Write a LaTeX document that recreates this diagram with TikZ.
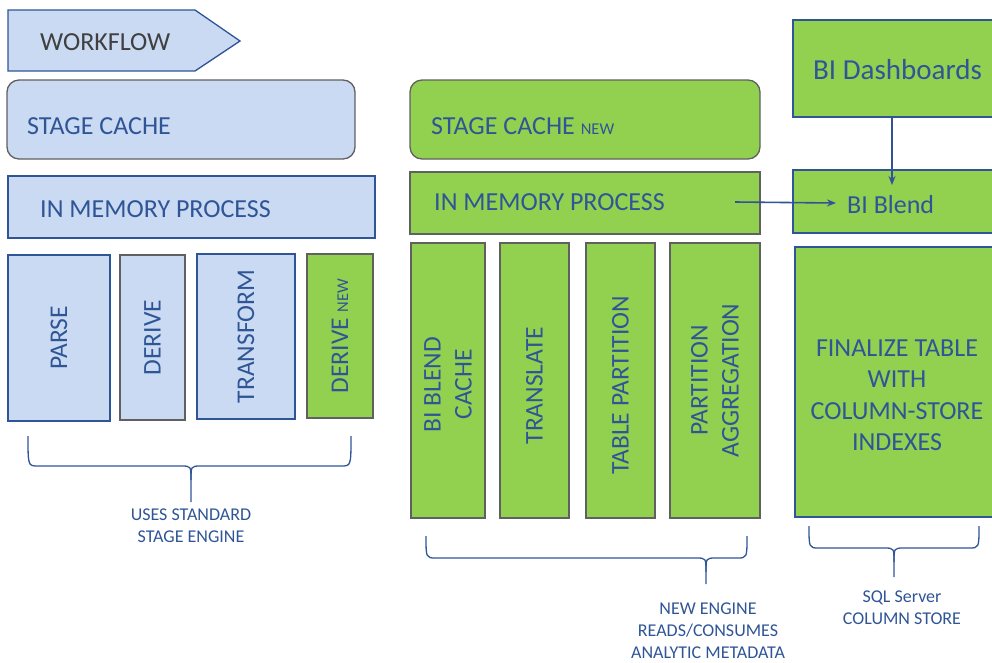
\documentclass[tikz,border=0pt]{standalone}
\usepackage{fontspec}
\setmainfont{Carlito}
\usetikzlibrary{arrows.meta}
\definecolor{lblue}{HTML}{C9DAF2}
\definecolor{dblue}{HTML}{2F5597}
\definecolor{lgreen}{HTML}{92D050}
\definecolor{gborder}{HTML}{606060}
\definecolor{wfgray}{HTML}{404040}
\newcommand\mkbox[6]{\node[#1, minimum width={#4-#2}, minimum height={#5-#3}, anchor=north west] (#6) at (#2,#3) {};}
\newcommand\mkbrace[6]{%
  \draw[brc] (#1,#4) .. controls (#1,#5) .. (#1+10,#5) -- (#3-10,#5) .. controls (#3,#5) .. (#3,#5+14) -- (#3,#6);
  \draw[brc] (#2,#4) .. controls (#2,#5) .. (#2-10,#5) -- (#3+10,#5) .. controls (#3,#5) .. (#3,#5+14);}
\begin{document}
\begin{tikzpicture}[x=1pt,y=-1pt,
  bx/.style={draw, line width=1.3pt, inner sep=0pt, outer sep=0pt},
  bluebox/.style={bx, fill=lblue, draw=dblue},
  bluegray/.style={bx, fill=lblue, draw=gborder},
  greenbox/.style={bx, fill=lgreen, draw=gborder},
  greenblue/.style={bx, fill=lgreen, draw=dblue},
  rnd/.style={rounded corners=12pt},
  lbl/.style={text=dblue, font=\fontsize{26}{30}\selectfont, inner sep=0pt},
  vlbl/.style={lbl, rotate=90, align=center, font=\fontsize{25.5}{31}\selectfont},
  small/.style={text=dblue, font=\fontsize{18}{22}\selectfont, align=center, inner sep=0pt},
  brc/.style={draw=dblue, line width=1.3pt},
  arr/.style={draw=dblue, line width=1.6pt, -{Stealth[length=9pt,width=7pt]}}
]
\useasboundingbox (0,0) rectangle (992,662);
\newcommand\nw[1]{{\fontsize{16.5}{18}\selectfont #1}}
% workflow
\draw[bx, fill=lblue, draw=dblue] (8,10) -- (195,10) -- (240,41) -- (195,71) -- (8,71) -- cycle;
\node[lbl, text=wfgray, anchor=west] (wf) at (40,42) {WORKFLOW};
% left column
\mkbox{bluegray,rnd}{7}{80}{355}{159}{sc1}
\node[lbl, anchor=west] (sc1t) at (27,126) {STAGE CACHE};
\mkbox{bluebox}{8}{176}{375}{238}{im1}
\node[lbl, anchor=west] (im1t) at (40,209) {IN MEMORY PROCESS};
\mkbox{bluebox}{8}{255}{110}{421}{parse}
\node[vlbl] (parset) at (parse.center) {PARSE};
\mkbox{bluegray}{120}{255}{185}{420}{derive}
\node[vlbl] (derivet) at (derive.center) {DERIVE};
\mkbox{bluebox}{197}{254}{295}{419}{transform}
\node[vlbl] (transformt) at (transform.center) {TRANSFORM};
\mkbox{greenbox}{307}{254}{373}{418}{derivenew}
\node[vlbl] (derivenewt) at (derivenew.center) {DERIVE \nw{NEW}};
% middle column
\mkbox{greenbox,rnd}{410}{80}{760}{159}{sc2}
\node[lbl, anchor=west] (sc2t) at (431,126) {STAGE CACHE \nw{NEW}};
\mkbox{greenbox}{410}{172}{760}{234}{im2}
\node[lbl, anchor=west] (im2t) at (434,202) {IN MEMORY PROCESS};
\mkbox{greenbox}{411}{243}{485}{518}{c1}
\node[vlbl] (c1t) at ([yshift=-4pt]c1.center) {BI BLEND\\CACHE};
\mkbox{greenbox}{500}{243}{569}{518}{c2}
\node[vlbl] (c2t) at ([yshift=-5pt]c2.center) {TRANSLATE};
\mkbox{greenbox}{586}{243}{655}{518}{c3}
\node[vlbl] (c3t) at ([yshift=-5pt]c3.center) {TABLE PARTITION};
\mkbox{greenbox}{670}{243}{760}{518}{c4}
\node[vlbl] (c4t) at (c4.center) {PARTITION\\AGGREGATION};
% right column
\mkbox{greenblue}{793}{20}{1005}{117}{dash}
\node[lbl, font=\fontsize{29}{32}\selectfont, anchor=west] (dasht) at (813,70) {BI Dashboards};
\mkbox{greenblue}{793}{170}{1005}{233}{blend}
\node[lbl, anchor=west] (blendt) at (847,205) {BI Blend};
\mkbox{greenblue}{795}{247}{1005}{517}{fin}
\node[lbl, align=center, font=\fontsize{26}{31.5}\selectfont] (fint) at (897,395) {FINALIZE TABLE\\WITH\\COLUMN-STORE\\INDEXES};
% arrows
\coordinate (a1) at (892,117);
\coordinate (a2) at (892,185);
\draw[arr] (a1) -- (a2);
\coordinate (b1) at (735,202);
\coordinate (b2) at (836,203);
\draw[arr] (b1) -- (b2);
% braces
\mkbrace{28}{351}{191}{436}{466}{502}
\mkbrace{426}{747}{706}{536}{558}{584}
\mkbrace{809}{979}{894}{526}{548}{577}
\node[small] (l1) at (191,526) {USES STANDARD\\STAGE ENGINE};
\node[small] (l2) at (708,631) {NEW ENGINE\\READS/CONSUMES\\ANALYTIC METADATA};
\node[small] (l3) at (902,608) {SQL Server\\COLUMN STORE};
\end{tikzpicture}
\end{document}
